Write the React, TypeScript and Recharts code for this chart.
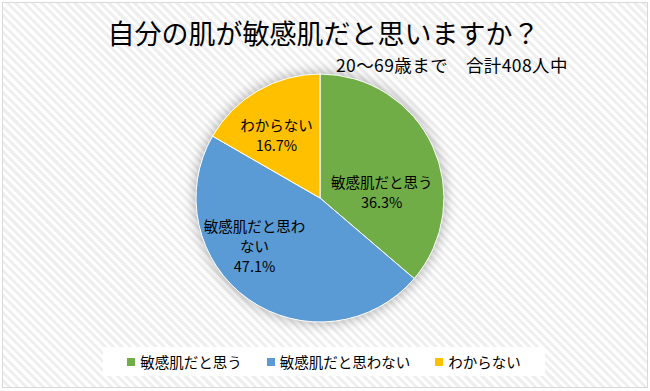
import { PieChart, Pie, Cell, Legend } from "recharts";

const categories = ["敏感肌だと思う", "敏感肌だと思わない", "わからない"];
const shares = [36.3, 47.1, 16.7];
const COLORS = ["#70AD47", "#5B9BD5", "#FFC000"];

const data = categories.map((name, i) => ({ name, value: shares[i] }));
const total = shares.reduce((a, b) => a + b, 0);
const shadowData = [{ name: "total", value: total }];

// Excel-style "best fit" label placement: angle nudge (deg) and radius fraction per slice
const LABEL_FIT = [
  { da: -19, k: 0.5 },
  { da: -19, k: 0.65 },
  { da: 4.5, k: 0.62 },
];

const FONT = "'Noto Sans CJK JP', 'Noto Sans', sans-serif";
const RADIAN = Math.PI / 180;

function renderLabel(props: any) {
  const { cx, cy, midAngle, outerRadius, index, name, value } = props;
  const fit = LABEL_FIT[index] || { da: 0, k: 0.55 };
  const a = (midAngle + fit.da) * RADIAN;
  const r = outerRadius * fit.k;
  const x = cx + r * Math.cos(-a);
  const y = cy + r * Math.sin(-a);
  const lines: string[] = name.length > 7 ? [name.slice(0, 7), name.slice(7)] : [name];
  lines.push(`${Number(value).toFixed(1)}%`);
  const step = 20;
  const y0 = y - ((lines.length - 1) * step) / 2;
  return (
    <text
      x={x}
      y={y0}
      textAnchor="middle"
      fill="#000"
      fontSize={14.5}
      fontFamily={FONT}
    >
      {lines.map((l, i) => (
        <tspan key={i} x={x} y={y0 + i * step} dominantBaseline="central">
          {l}
        </tspan>
      ))}
    </text>
  );
}

function LegendBox() {
  return (
    <div
      style={{
        display: "flex",
        justifyContent: "center",
        alignItems: "center",
        gap: 25,
        height: 29,
        background: "#fff",
        fontFamily: FONT,
        fontSize: 14.5,
        color: "#000",
      }}
    >
      {categories.map((c, i) => (
        <span key={c} style={{ display: "inline-flex", alignItems: "center" }}>
          <span style={{ width: 8, height: 8, background: COLORS[i], marginRight: 5, display: "inline-block" }} />
          {c}
        </span>
      ))}
    </div>
  );
}

export default function App() {
  return (
    <div style={{ position: "relative", width: 650, height: 391, background: "#fff", overflow: "hidden" }}>
      <style>{`
        body { margin: 0; }
        .pie-shadow path { filter: drop-shadow(0 0 7px rgba(0,0,0,0.35)); }
      `}</style>
      <div
        style={{
          position: "absolute",
          left: 2,
          top: 2,
          width: 644,
          height: 384,
          border: "1px solid #d9d9d9",
          background: "repeating-linear-gradient(45deg, #ffffff 0px, #ffffff 3px, #efefef 3px, #efefef 6px)",
        }}
      />
      <div
        style={{
          position: "absolute",
          left: 0,
          width: 650,
          top: 15,
          textAlign: "center",
          fontFamily: FONT,
          fontSize: 27,
          lineHeight: "36px",
          color: "#000",
        }}
      >
        <span style={{ marginLeft: -3 }}>自分の肌が敏感肌だと思いますか？</span>
      </div>
      <div
        style={{
          position: "absolute",
          left: 336,
          top: 53,
          fontFamily: FONT,
          fontSize: 17.5,
          letterSpacing: 0.4,
          lineHeight: "24px",
          color: "#000",
          whiteSpace: "pre",
        }}
      >
        20～69歳まで　合計408人中
      </div>
      <div style={{ position: "absolute", left: 0, top: 0 }}>
        <PieChart width={650} height={391} margin={{ top: 0, right: 0, bottom: 0, left: 0 }}>
          <Pie
            className="pie-shadow"
            data={shadowData}
            dataKey="value"
            cx={320}
            cy={198}
            outerRadius={124}
            startAngle={90}
            endAngle={-270}
            stroke="none"
            fill="#ffffff"
            legendType="none"
            isAnimationActive={false}
          />
          <Pie
            data={data}
            dataKey="value"
            nameKey="name"
            cx={320}
            cy={198}
            outerRadius={124}
            startAngle={90}
            endAngle={-270}
            stroke="#ffffff"
            strokeWidth={1}
            labelLine={false}
            label={renderLabel}
            isAnimationActive={false}
          >
            {data.map((_, i) => (
              <Cell key={i} fill={COLORS[i]} />
            ))}
          </Pie>
          <Legend
            content={() => <LegendBox />}
            wrapperStyle={{ position: "absolute", left: 103, top: 347, width: 442, height: 29 }}
          />
        </PieChart>
      </div>
    </div>
  );
}
